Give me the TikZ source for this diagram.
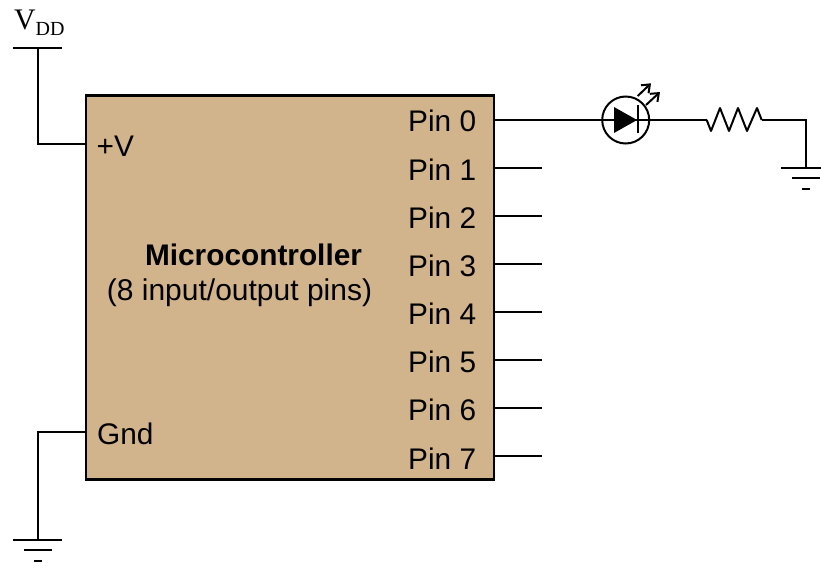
\documentclass[tikz,border=0pt]{standalone}
\usepackage{fontspec}
\setmainfont{Liberation Sans}
\newfontfamily\serifvdd{Liberation Serif}
\definecolor{mcutan}{HTML}{D2B48C}
\usetikzlibrary{arrows.meta}
\tikzset{
  wire/.style={line width=2pt,line cap=butt,line join=miter},
  lbl/.style={inner sep=0pt,anchor=base west,font=\fontsize{29.8}{32}\selectfont},
  mcu/.style={draw=black,fill=mcutan,line width=2.2pt,minimum width=408pt,minimum height=384pt,inner sep=0pt},
  ledring/.style={circle,draw=black,line width=2pt,minimum size=47pt,inner sep=0pt},
  led arrow/.style={line width=2pt,-{Straight Barb[length=7pt,width=11pt,line width=2pt]}},
}
\begin{document}
\begin{tikzpicture}[x=1pt,y=-1pt]
\useasboundingbox (0,0) rectangle (821,565);
\clip (0,0) rectangle (821,565);
\node[mcu] (box) at (290,287.5) {};

\foreach \n/\y in {1/168,2/216,3/264,4/312,5/360,6/408,7/456}{
  \coordinate (p\n) at (494,\y);
  \coordinate (e\n) at (542,\y);
  \draw[wire] (p\n) -- (e\n);
}
\foreach \n/\y in {0/131,1/180,2/228,3/276,4/324,5/372,6/420,7/469}{
  \node[lbl] (t\n) at (408,\y) {Pin \n};
}
\node[lbl] (tv) at (96.5,156) {+V};
\node[lbl] (tg) at (97,444) {Gnd};
\node[inner sep=0pt,anchor=base,font=\fontsize{29.8}{32}\selectfont\bfseries] (tm) at (253.5,265) {Microcontroller};
\node[inner sep=0pt,anchor=base,font=\fontsize{30}{32}\selectfont] (ts) at (239.5,300) {(8 input/output pins)};

\coordinate (vl) at (13,48);
\coordinate (vr) at (62,48);
\coordinate (vt) at (38,48);
\coordinate (vin) at (86,144);
\coordinate (gin) at (86,432);
\draw[wire] (vl) -- (vr);
\draw[wire] (vt) -- (vt |- vin) -- (vin);
\node[inner sep=0pt,anchor=base west,font=\serifvdd\fontsize{29.8}{32}\selectfont] (vdd) at (14,29) {V\raisebox{-6pt}{\fontsize{20}{22}\selectfont DD}};

\coordinate (g1) at (38,540);
\draw[wire] (gin) -- (gin -| g1) -- (g1);
\draw[wire] (13,540) -- (62,540);
\draw[wire] (24,550) -- (52,550);
\draw[wire] (34,561) -- (42,561);

\node[ledring] (led) at (625.7,120) {};
\coordinate (p0) at (494,120);
\coordinate (rs) at (706.7,120);
\draw[wire] (p0) -- (rs);
\fill (614,107) -- (637,120) -- (614,133) -- cycle;
\draw[line width=2.2pt] (638,105) -- (638,133);
\draw[led arrow] (637.7,96) -- (651,83.3);
\draw[led arrow] (646,105) -- (660,92);

\coordinate (re) at (761.7,120);
\coordinate (g2) at (806,168);
\draw[wire,line join=round] (rs) -- (711,131) -- (720,108) -- (729,131) -- (738,108) -- (747,131) -- (757,108) -- (re);
\draw[wire] (re) -- (re -| g2) -- (g2);
\draw[wire] (781,168) -- (831,168);
\draw[wire] (792,178) -- (820,178);
\draw[wire] (802,189) -- (810,189);
\end{tikzpicture}
\end{document}
